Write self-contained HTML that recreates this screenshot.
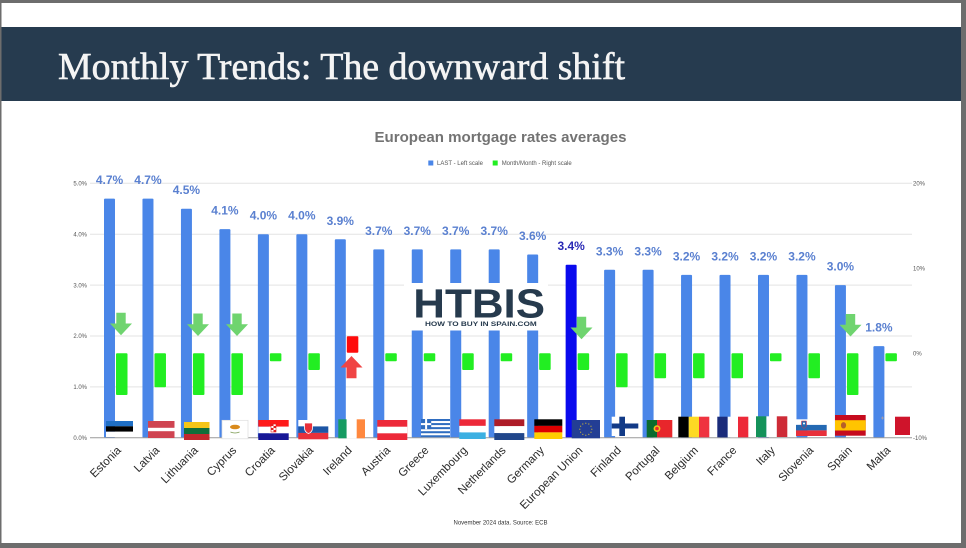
<!DOCTYPE html>
<html><head><meta charset="utf-8">
<style>html,body{margin:0;padding:0;background:#fff;overflow:hidden}svg{display:block}</style>
</head>
<body>
<svg width="966" height="548" viewBox="0 0 966 548" xmlns="http://www.w3.org/2000/svg" font-family="'Liberation Sans', Arial, sans-serif">
<!-- frame -->
<rect width="966" height="548" fill="#6d6d6d"/>
<rect x="1.5" y="3" width="959.5" height="540" fill="#ffffff"/>
<!-- title band -->
<rect x="1.5" y="27" width="959.5" height="74" fill="#263b4f"/>
<text x="58" y="79" font-family="'Liberation Serif', serif" font-size="37.7" fill="#f4f4f4" stroke="#f4f4f4" stroke-width="0.6" textLength="567" lengthAdjust="spacingAndGlyphs">Monthly Trends: The downward shift</text>

<!-- chart title -->
<text x="500.5" y="142" text-anchor="middle" font-size="15" font-weight="bold" fill="#737373" textLength="252" lengthAdjust="spacingAndGlyphs">European mortgage rates averages</text>

<!-- legend -->
<rect x="428.3" y="160.5" width="5" height="5" fill="#4a86e8"/>
<text x="437" y="165.2" font-size="6" fill="#555">LAST - Left scale</text>
<rect x="492.7" y="160.5" width="5" height="5" fill="#22ee22"/>
<text x="501.7" y="165.2" font-size="6" fill="#555">Month/Month - Right scale</text>

<!-- gridlines -->
<g stroke="#e3e3e3" stroke-width="1">
<line x1="90" y1="183.3" x2="912" y2="183.3"/>
<line x1="90" y1="234.2" x2="912" y2="234.2"/>
<line x1="90" y1="285.1" x2="912" y2="285.1"/>
<line x1="90" y1="336" x2="912" y2="336"/>
<line x1="90" y1="386.9" x2="912" y2="386.9"/>
</g>

<!-- left axis labels -->
<g font-size="6" fill="#555" text-anchor="end">
<text x="87" y="185.5">5.0%</text>
<text x="87" y="236.4">4.0%</text>
<text x="87" y="287.3">3.0%</text>
<text x="87" y="338.2">2.0%</text>
<text x="87" y="389.1">1.0%</text>
<text x="87" y="440">0.0%</text>
</g>
<!-- right axis labels -->
<g font-size="6" fill="#555">
<text x="913" y="185.5">20%</text>
<text x="913" y="270.5">10%</text>
<text x="913" y="355.5">0%</text>
<text x="913" y="440">-10%</text>
</g>

<!-- blue bars -->
<g fill="#4a86e8">
<rect x="104" y="198.6" width="11" height="239.1" rx="1"/>
<rect x="142.47" y="198.6" width="11" height="239.1" rx="1"/>
<rect x="180.94" y="208.7" width="11" height="229" rx="1"/>
<rect x="219.41" y="229.1" width="11" height="208.6" rx="1"/>
<rect x="257.88" y="234.2" width="11" height="203.5" rx="1"/>
<rect x="296.35" y="234.2" width="11" height="203.5" rx="1"/>
<rect x="334.82" y="239.3" width="11" height="198.4" rx="1"/>
<rect x="373.29" y="249.4" width="11" height="188.3" rx="1"/>
<rect x="411.76" y="249.4" width="11" height="188.3" rx="1"/>
<rect x="450.23" y="249.4" width="11" height="188.3" rx="1"/>
<rect x="488.7" y="249.4" width="11" height="188.3" rx="1"/>
<rect x="527.17" y="254.5" width="11" height="183.2" rx="1"/>
<rect x="604.11" y="269.8" width="11" height="167.9" rx="1"/>
<rect x="642.58" y="269.8" width="11" height="167.9" rx="1"/>
<rect x="681.05" y="274.9" width="11" height="162.8" rx="1"/>
<rect x="719.52" y="274.9" width="11" height="162.8" rx="1"/>
<rect x="757.99" y="274.9" width="11" height="162.8" rx="1"/>
<rect x="796.46" y="274.9" width="11" height="162.8" rx="1"/>
<rect x="834.93" y="285.1" width="11" height="152.6" rx="1"/>
<rect x="873.4" y="346.1" width="11" height="91.6" rx="1"/>
</g>
<rect x="565.64" y="264.7" width="11" height="173" rx="1" fill="#0a0aee"/>

<!-- green bars -->
<g fill="#22ee22">
<rect x="116" y="353.3" width="11.5" height="41.7" rx="1"/>
<rect x="154.47" y="353.3" width="11.5" height="34" rx="1"/>
<rect x="192.94" y="353.3" width="11.5" height="41.7" rx="1"/>
<rect x="231.41" y="353.3" width="11.5" height="41.7" rx="1"/>
<rect x="269.88" y="353.3" width="11.5" height="8" rx="1"/>
<rect x="308.35" y="353.3" width="11.5" height="16.7" rx="1"/>
<rect x="385.29" y="353.3" width="11.5" height="8" rx="1"/>
<rect x="423.76" y="353.3" width="11.5" height="8" rx="1"/>
<rect x="462.23" y="353.3" width="11.5" height="16.7" rx="1"/>
<rect x="500.7" y="353.3" width="11.5" height="8" rx="1"/>
<rect x="539.17" y="353.3" width="11.5" height="16.7" rx="1"/>
<rect x="577.64" y="353.3" width="11.5" height="16.7" rx="1"/>
<rect x="616.11" y="353.3" width="11.5" height="34" rx="1"/>
<rect x="654.58" y="353.3" width="11.5" height="25" rx="1"/>
<rect x="693.05" y="353.3" width="11.5" height="25" rx="1"/>
<rect x="731.52" y="353.3" width="11.5" height="25" rx="1"/>
<rect x="769.99" y="353.3" width="11.5" height="8" rx="1"/>
<rect x="808.46" y="353.3" width="11.5" height="25" rx="1"/>
<rect x="846.93" y="353.3" width="11.5" height="41.7" rx="1"/>
<rect x="885.4" y="353.3" width="11.5" height="8" rx="1"/>
</g>
<rect x="346.82" y="336.3" width="11.5" height="16.4" rx="1" fill="#ff0a0a"/>

<!-- value labels -->
<g font-size="12" font-weight="bold" fill="#5a80d0" text-anchor="middle">
<text x="109.5" y="184.1">4.7%</text>
<text x="147.97" y="184.1">4.7%</text>
<text x="186.44" y="194.2">4.5%</text>
<text x="224.91" y="214.6">4.1%</text>
<text x="263.38" y="219.7">4.0%</text>
<text x="301.85" y="219.7">4.0%</text>
<text x="340.32" y="224.8">3.9%</text>
<text x="378.79" y="234.9">3.7%</text>
<text x="417.26" y="234.9">3.7%</text>
<text x="455.73" y="234.9">3.7%</text>
<text x="494.2" y="234.9">3.7%</text>
<text x="532.67" y="240">3.6%</text>
<text x="609.61" y="255.3">3.3%</text>
<text x="648.08" y="255.3">3.3%</text>
<text x="686.55" y="260.4">3.2%</text>
<text x="725.02" y="260.4">3.2%</text>
<text x="763.49" y="260.4">3.2%</text>
<text x="801.96" y="260.4">3.2%</text>
<text x="840.43" y="270.6">3.0%</text>
<text x="878.9" y="331.6">1.8%</text>
</g>
<text x="571.14" y="250.2" font-size="12" font-weight="bold" fill="#2a2ab5" text-anchor="middle">3.4%</text>

<!-- logo -->
<rect x="404" y="283" width="144" height="47.5" fill="#ffffff"/>
<text x="413.3" y="317.7" font-size="41" font-weight="bold" fill="#263a4d" textLength="131.7" lengthAdjust="spacingAndGlyphs">HTBIS</text>
<text x="425" y="325.8" font-size="6" font-weight="bold" fill="#263a4d" textLength="111.7" lengthAdjust="spacingAndGlyphs">HOW TO BUY IN SPAIN.COM</text>

<!-- green down arrows -->
<g fill="#6fd46f">
<path d="M116.3,312.7 L125.7,312.7 L125.7,323.5 L132,323.5 L121,335.2 L110,323.5 L116.3,323.5 Z"/>
<path d="M193.3,313.5 L202.7,313.5 L202.7,324.3 L209,324.3 L198,336 L187,324.3 L193.3,324.3 Z"/>
<path d="M232.3,313.5 L241.7,313.5 L241.7,324.3 L248,324.3 L237,336 L226,324.3 L232.3,324.3 Z"/>
<path d="M576.8,316.7 L586.2,316.7 L586.2,327.5 L592.5,327.5 L581.5,339.2 L570.5,327.5 L576.8,327.5 Z"/>
<path d="M845.8,314 L855.2,314 L855.2,324.8 L861.5,324.8 L850.5,336.5 L839.5,324.8 L845.8,324.8 Z"/>
</g>
<!-- red up arrow -->
<path d="M351.5,356 L362.5,367.5 L356.5,367.5 L356.5,378.3 L346.5,378.3 L346.5,367.5 L340.5,367.5 Z" fill="#f04444"/>

<!-- baseline -->
<line x1="90" y1="437.7" x2="912" y2="437.7" stroke="#9a9a9a" stroke-width="1"/>

<!-- flags -->
<rect x="106" y="421" width="27" height="5.3" fill="#1f6fc5"/>
<rect x="106" y="426.3" width="27" height="5.4" fill="#000"/>
<rect x="106" y="431.7" width="27" height="5.3" fill="#fff"/>
<rect x="148" y="421" width="26.5" height="17" fill="#cf4451"/>
<rect x="148" y="427.8" width="26.5" height="3.4" fill="#fff"/>
<rect x="184" y="422" width="25.5" height="6" fill="#f5c518"/>
<rect x="184" y="428" width="25.5" height="6" fill="#0f6e3a"/>
<rect x="184" y="434" width="25.5" height="6" fill="#c1272d"/>
<rect x="222" y="420.3" width="26" height="18.5" fill="#fff" stroke="#ddd" stroke-width="0.7"/>
<ellipse cx="235" cy="427" rx="5" ry="2.3" fill="#d98a1c"/>
<path d="M230.5,432 q4.5,2 9,0" stroke="#7a9a50" stroke-width="0.8" fill="none"/>
<rect x="258.3" y="420" width="30.4" height="6.7" fill="#ff1a1a"/>
<rect x="258.3" y="426.7" width="30.4" height="6.6" fill="#fff"/>
<rect x="258.3" y="433.3" width="30.4" height="6.7" fill="#171796"/>
<rect x="271" y="424" width="5" height="8" fill="#fff" stroke="#e02020" stroke-width="0.6"/>
<rect x="271" y="424" width="2.5" height="2" fill="#e02020"/>
<rect x="273.5" y="426" width="2.5" height="2" fill="#e02020"/>
<rect x="271" y="428" width="2.5" height="2" fill="#e02020"/>
<rect x="273.5" y="430" width="2.5" height="2" fill="#e02020"/>
<rect x="298.3" y="420" width="30" height="6.4" fill="#fff"/>
<rect x="298.3" y="426.4" width="30" height="6.5" fill="#1c55a5"/>
<rect x="298.3" y="432.9" width="30" height="6.4" fill="#e8303a"/>
<path d="M304.5,423 h8 v5 q0,4 -4,5.5 q-4,-1.5 -4,-5.5 Z" fill="#e8303a" stroke="#fff" stroke-width="0.8"/>
<rect x="338.3" y="419.3" width="8.4" height="19" fill="#169b62"/>
<rect x="346.7" y="419.3" width="10" height="19" fill="#fff"/>
<rect x="356.7" y="419.3" width="8.3" height="19" fill="#ff883e"/>
<rect x="377.3" y="420" width="30" height="20" fill="#ed2939"/>
<rect x="377.3" y="426.7" width="30" height="6.6" fill="#fff"/>
<rect x="421" y="419" width="29" height="18.3" fill="#fff"/>
<g fill="#2f6dc0">
<rect x="421" y="419" width="29" height="2.03"/>
<rect x="421" y="423.07" width="29" height="2.03"/>
<rect x="421" y="427.13" width="29" height="2.03"/>
<rect x="421" y="431.2" width="29" height="2.03"/>
<rect x="421" y="435.27" width="29" height="2.03"/>
<rect x="421" y="419" width="10.2" height="10.15"/>
</g>
<rect x="421" y="423.1" width="10.2" height="2" fill="#fff"/>
<rect x="425.1" y="419" width="2" height="10.15" fill="#fff"/>
<rect x="459.3" y="419.3" width="26.4" height="6.6" fill="#ed2939"/>
<rect x="459.3" y="425.9" width="26.4" height="6.5" fill="#fff"/>
<rect x="459.3" y="432.4" width="26.4" height="6.6" fill="#3cb0e2"/>
<rect x="494.3" y="419.3" width="30" height="6.9" fill="#ae1c28"/>
<rect x="494.3" y="426.2" width="30" height="6.9" fill="#fff"/>
<rect x="494.3" y="433.1" width="30" height="6.9" fill="#21468b"/>
<rect x="534.3" y="419.3" width="28" height="6.6" fill="#000"/>
<rect x="534.3" y="425.9" width="28" height="6.5" fill="#dd0000"/>
<rect x="534.3" y="432.4" width="28" height="6.6" fill="#ffce00"/>
<rect x="571.7" y="420" width="28.3" height="18.3" fill="#233e94"/>
<g fill="#c9b53a">
<circle cx="585.8" cy="423.2" r="0.6"/><circle cx="588.8" cy="424" r="0.6"/><circle cx="591" cy="426.2" r="0.6"/>
<circle cx="591.8" cy="429.2" r="0.6"/><circle cx="591" cy="432.2" r="0.6"/><circle cx="588.8" cy="434.4" r="0.6"/>
<circle cx="585.8" cy="435.2" r="0.6"/><circle cx="582.8" cy="434.4" r="0.6"/><circle cx="580.6" cy="432.2" r="0.6"/>
<circle cx="579.8" cy="429.2" r="0.6"/><circle cx="580.6" cy="426.2" r="0.6"/><circle cx="582.8" cy="424" r="0.6"/>
</g>
<rect x="611.7" y="416.7" width="26.6" height="19.3" fill="#fff"/>
<rect x="619.3" y="416.7" width="5.7" height="19.3" fill="#123a87"/>
<rect x="611.7" y="423.5" width="26.6" height="5" fill="#123a87"/>
<rect x="646.7" y="420" width="10.3" height="17.3" fill="#0b6b2e"/>
<rect x="657" y="420" width="15.3" height="17.3" fill="#e8262b"/>
<circle cx="657" cy="428.6" r="3.4" fill="#f0c419"/>
<circle cx="657" cy="428.6" r="1.8" fill="#e8262b"/>
<rect x="678.3" y="416.7" width="10.4" height="20.6" fill="#000"/>
<rect x="688.7" y="416.7" width="10.3" height="20.6" fill="#fdda24"/>
<rect x="699" y="416.7" width="10.3" height="20.6" fill="#ef3340"/>
<rect x="717.3" y="416.7" width="10.4" height="20.6" fill="#1a2b7a"/>
<rect x="727.7" y="416.7" width="10.3" height="20.6" fill="#fff"/>
<rect x="738" y="416.7" width="10.3" height="20.6" fill="#ed2939"/>
<rect x="756" y="416.3" width="10.4" height="20.7" fill="#14925a"/>
<rect x="766.4" y="416.3" width="10.4" height="20.7" fill="#fff"/>
<rect x="776.8" y="416.3" width="10.5" height="20.7" fill="#ce2b37"/>
<rect x="796" y="419.3" width="30.7" height="5.6" fill="#fff"/>
<rect x="796" y="424.9" width="30.7" height="5.5" fill="#2469b3"/>
<rect x="796" y="430.4" width="30.7" height="5.6" fill="#e8303a"/>
<path d="M801.5,421 h5 v4 q0,2.5 -2.5,3.3 q-2.5,-0.8 -2.5,-3.3 Z" fill="#2469b3" stroke="#e8303a" stroke-width="0.5"/>
<circle cx="804" cy="423.5" r="1" fill="#fff"/>
<rect x="835" y="415" width="30.7" height="20.7" fill="#c60b1e"/>
<rect x="835" y="420.2" width="30.7" height="10.3" fill="#ffc400"/>
<ellipse cx="843.5" cy="425.3" rx="2.6" ry="3.2" fill="#b5602a"/>
<rect x="895" y="416.7" width="15" height="18.3" fill="#cf142b"/>
<path d="M881,418 h3 M882.5,416.5 v3" stroke="#b0a0a0" stroke-width="0.8"/>

<!-- x axis labels -->
<g font-size="11.5" fill="#2a2a2a" text-anchor="end">
<text transform="translate(121.7,451) rotate(-45)">Estonia</text>
<text transform="translate(160.17,451) rotate(-45)">Latvia</text>
<text transform="translate(198.64,451) rotate(-45)">Lithuania</text>
<text transform="translate(237.11,451) rotate(-45)">Cyprus</text>
<text transform="translate(275.58,451) rotate(-45)">Croatia</text>
<text transform="translate(314.05,451) rotate(-45)">Slovakia</text>
<text transform="translate(352.52,451) rotate(-45)">Ireland</text>
<text transform="translate(390.99,451) rotate(-45)">Austria</text>
<text transform="translate(429.46,451) rotate(-45)">Greece</text>
<text transform="translate(467.93,451) rotate(-45)">Luxembourg</text>
<text transform="translate(506.4,451) rotate(-45)">Netherlands</text>
<text transform="translate(544.87,451) rotate(-45)">Germany</text>
<text transform="translate(583.34,451) rotate(-45)">European Union</text>
<text transform="translate(621.81,451) rotate(-45)">Finland</text>
<text transform="translate(660.28,451) rotate(-45)">Portugal</text>
<text transform="translate(698.75,451) rotate(-45)">Belgium</text>
<text transform="translate(737.22,451) rotate(-45)">France</text>
<text transform="translate(775.69,451) rotate(-45)">Italy</text>
<text transform="translate(814.16,451) rotate(-45)">Slovenia</text>
<text transform="translate(852.63,451) rotate(-45)">Spain</text>
<text transform="translate(891.1,451) rotate(-45)">Malta</text>
</g>

<!-- source -->
<text x="500.5" y="524.5" text-anchor="middle" font-size="6" fill="#333" textLength="94" lengthAdjust="spacingAndGlyphs">November 2024 data. Source: ECB</text>
</svg>
</body></html>
